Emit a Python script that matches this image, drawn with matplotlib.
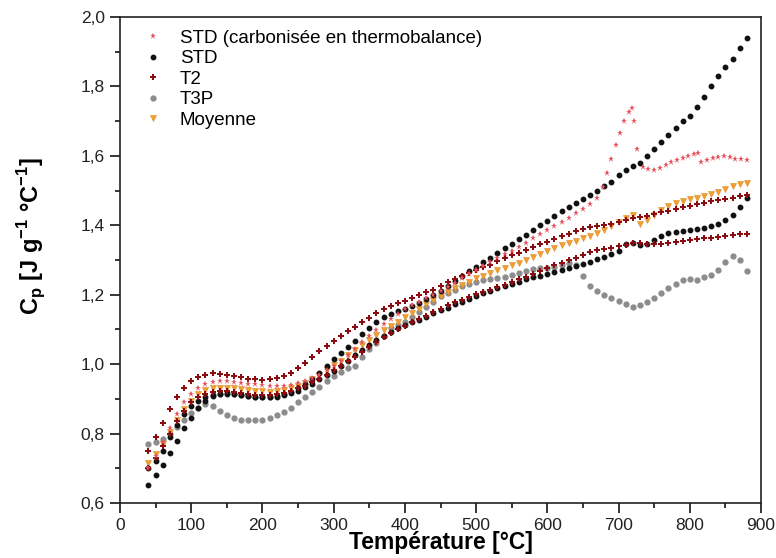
import numpy as np
import matplotlib
matplotlib.use('Agg')
import matplotlib.pyplot as plt
from matplotlib.ticker import MultipleLocator, FuncFormatter

plt.rcParams['font.family'] = ['Liberation Sans', 'DejaVu Sans']

# temperature grid shared by most series (°C)
T_grid = list(range(40, 890, 10))

# STD (carbonisée en thermobalance) - own temperatures because of the spike
T_carb = list(range(40, 680, 10)) + [678, 684, 690, 696, 702, 708, 714, 719, 722, 726, 734, 742,
                                     750, 758, 766, 774, 782, 790, 798, 806, 812,
                                     816, 824, 832, 840, 848, 856, 864, 872, 880]
cp_carb = [0.70, 0.735, 0.775, 0.815, 0.855, 0.89, 0.915, 0.932, 0.942, 0.948,
           0.95, 0.95, 0.948, 0.946, 0.944, 0.942, 0.94, 0.938, 0.937, 0.938,
           0.941, 0.946, 0.952, 0.96, 0.97, 0.982, 0.995, 1.01, 1.027, 1.045,
           1.063, 1.08, 1.098, 1.115, 1.13, 1.145, 1.158, 1.17, 1.18, 1.19,
           1.20, 1.21, 1.222, 1.235, 1.248, 1.26, 1.272, 1.283, 1.294, 1.305,
           1.316, 1.327, 1.338, 1.35, 1.362, 1.374, 1.386, 1.398, 1.41, 1.422,
           1.435, 1.448, 1.462, 1.478,
           1.51, 1.55, 1.59, 1.63, 1.665, 1.70, 1.725, 1.738, 1.70, 1.62, 1.568, 1.562,
           1.56, 1.565, 1.575, 1.582, 1.588, 1.595, 1.60, 1.605, 1.608,
           1.583, 1.588, 1.594, 1.598, 1.60, 1.598, 1.592, 1.59, 1.588]

# STD - two runs
cp_std_1 = [0.70, 0.72, 0.75, 0.79, 0.825, 0.855, 0.88, 0.895, 0.905, 0.912,
            0.915, 0.915, 0.913, 0.91, 0.907, 0.905, 0.904, 0.905, 0.908, 0.913,
            0.92, 0.93, 0.942, 0.958, 0.975, 0.995, 1.015, 1.033, 1.05, 1.068,
            1.087, 1.105, 1.12, 1.135, 1.145, 1.152, 1.16, 1.168, 1.177, 1.187,
            1.198, 1.21, 1.225, 1.24, 1.255, 1.268, 1.28, 1.293, 1.306, 1.32,
            1.334, 1.347, 1.36, 1.373, 1.386, 1.40, 1.413, 1.427, 1.44, 1.452,
            1.463, 1.475, 1.488, 1.50, 1.512, 1.525, 1.545, 1.56, 1.57, 1.58,
            1.60, 1.62, 1.64, 1.66, 1.68, 1.70, 1.715, 1.74, 1.77, 1.80,
            1.83, 1.855, 1.88, 1.91, 1.94]
cp_std_2 = [0.652, 0.68, 0.71, 0.745, 0.78, 0.815, 0.845, 0.875, 0.895, 0.908,
            0.915, 0.917, 0.915, 0.912, 0.909, 0.906, 0.904, 0.904, 0.906, 0.91,
            0.916, 0.924, 0.933, 0.944, 0.956, 0.968, 0.98, 0.995, 1.01, 1.025,
            1.04, 1.055, 1.07, 1.082, 1.093, 1.103, 1.112, 1.12, 1.128, 1.137,
            1.146, 1.155, 1.163, 1.172, 1.18, 1.188, 1.196, 1.204, 1.211, 1.218,
            1.225, 1.232, 1.238, 1.244, 1.25, 1.255, 1.26, 1.265, 1.27, 1.276,
            1.282, 1.288, 1.295, 1.302, 1.31, 1.318, 1.326, 1.345, 1.348, 1.342,
            1.345, 1.358, 1.37, 1.377, 1.38, 1.383, 1.386, 1.39, 1.393, 1.397,
            1.403, 1.415, 1.43, 1.452, 1.478]

# T2 - two runs
cp_t2_1 = [0.75, 0.79, 0.83, 0.87, 0.905, 0.93, 0.95, 0.962, 0.97, 0.974,
           0.973, 0.97, 0.966, 0.962, 0.958, 0.956, 0.955, 0.956, 0.96, 0.966,
           0.975, 0.988, 1.003, 1.02, 1.037, 1.053, 1.068, 1.082, 1.095, 1.108,
           1.12, 1.133, 1.147, 1.16, 1.168, 1.175, 1.182, 1.19, 1.198, 1.207,
           1.215, 1.225, 1.236, 1.246, 1.255, 1.263, 1.271, 1.279, 1.287, 1.296,
           1.305, 1.313, 1.321, 1.33, 1.338, 1.345, 1.352, 1.36, 1.368, 1.376,
           1.383, 1.39, 1.394, 1.397, 1.40, 1.405, 1.41, 1.415, 1.42, 1.425,
           1.428, 1.432, 1.437, 1.442, 1.447, 1.452, 1.456, 1.46, 1.465, 1.47,
           1.473, 1.476, 1.48, 1.484, 1.488]
cp_t2_2 = [0.70, 0.73, 0.765, 0.80, 0.835, 0.865, 0.89, 0.905, 0.915, 0.92,
           0.922, 0.922, 0.92, 0.917, 0.914, 0.912, 0.911, 0.911, 0.913, 0.917,
           0.922, 0.93, 0.938, 0.948, 0.958, 0.97, 0.982, 0.995, 1.008, 1.022,
           1.036, 1.05, 1.064, 1.078, 1.09, 1.10, 1.11, 1.12, 1.13, 1.14,
           1.15, 1.16, 1.169, 1.178, 1.186, 1.194, 1.201, 1.208, 1.215, 1.222,
           1.229, 1.236, 1.244, 1.252, 1.26, 1.268, 1.277, 1.285, 1.292, 1.30,
           1.307, 1.315, 1.322, 1.328, 1.333, 1.336, 1.34, 1.344, 1.348, 1.35,
           1.347, 1.345, 1.345, 1.348, 1.352, 1.355, 1.357, 1.36, 1.362, 1.364,
           1.367, 1.37, 1.372, 1.374, 1.375]

# T3P
cp_t3p = [0.77, 0.775, 0.785, 0.80, 0.82, 0.84, 0.86, 0.875, 0.885, 0.878,
          0.865, 0.853, 0.845, 0.84, 0.838, 0.838, 0.84, 0.845, 0.853, 0.863,
          0.875, 0.89, 0.905, 0.92, 0.935, 0.95, 0.965, 0.978, 0.988, 0.995,
          1.02, 1.045, 1.062, 1.082, 1.103, 1.113, 1.122, 1.135, 1.15, 1.165,
          1.18, 1.195, 1.205, 1.215, 1.225, 1.232, 1.238, 1.242, 1.245, 1.248,
          1.252, 1.256, 1.262, 1.268, 1.273, 1.276, 1.278, 1.28, 1.285, 1.29,
          1.285, 1.255, 1.225, 1.21, 1.20, 1.19, 1.183, 1.172, 1.165, 1.17,
          1.18, 1.19, 1.205, 1.22, 1.232, 1.242, 1.245, 1.243, 1.25, 1.258,
          1.272, 1.295, 1.312, 1.30, 1.268]

# Moyenne
cp_moy = [0.715, 0.74, 0.77, 0.805, 0.84, 0.87, 0.895, 0.915, 0.925, 0.93,
          0.932, 0.932, 0.93, 0.928, 0.926, 0.924, 0.922, 0.921, 0.922, 0.925,
          0.93, 0.937, 0.946, 0.957, 0.97, 0.983, 0.997, 1.01, 1.025, 1.04,
          1.055, 1.07, 1.085, 1.098, 1.11, 1.122, 1.135, 1.147, 1.16, 1.172,
          1.185, 1.197, 1.208, 1.218, 1.228, 1.238, 1.247, 1.255, 1.263, 1.27,
          1.278, 1.285, 1.292, 1.30, 1.308, 1.317, 1.326, 1.335, 1.343, 1.35,
          1.356, 1.362, 1.37, 1.378, 1.387, 1.397, 1.41, 1.422, 1.43, 1.405,
          1.415, 1.43, 1.443, 1.455, 1.463, 1.47, 1.475, 1.48, 1.485, 1.49,
          1.497, 1.505, 1.513, 1.52, 1.523]

c_carb = '#e5505a'
c_std = '#111111'
c_t2 = '#8b0d12'
c_t3p = '#8c8c8c'
c_moy = '#f0a033'

fig = plt.figure(figsize=(7.76, 5.58), dpi=100)
ax = fig.add_axes([120 / 776, 1 - 503 / 558, 641 / 776, 486 / 558])

ax.plot(T_grid, cp_t3p, ls='none', marker='o', ms=3.5, color=c_t3p, mec=c_t3p, label='T3P', zorder=2)
ax.plot(T_grid, cp_moy, ls='none', marker='v', ms=5, color=c_moy, mec='#e08a20', mew=0.4, label='Moyenne', zorder=3)
ax.plot(T_grid, cp_std_2, ls='none', marker='o', ms=3.2, color=c_std, label='STD', zorder=4)
ax.plot(T_grid, cp_std_1, ls='none', marker='o', ms=3.2, color=c_std, zorder=4)
ax.plot(T_grid, cp_t2_1, ls='none', marker='P', ms=4.6, color=c_t2, mew=0, label='T2', zorder=5)
ax.plot(T_grid, cp_t2_2, ls='none', marker='P', ms=4.6, color=c_t2, mew=0, zorder=5)
ax.plot(T_carb, cp_carb, ls='none', marker='*', ms=4.6, color=c_carb, mew=0, label='STD (carbonisée en thermobalance)', zorder=6)

ax.set_xlim(0, 900)
ax.set_ylim(0.6, 2.0)
ax.xaxis.set_major_locator(MultipleLocator(100))
ax.xaxis.set_minor_locator(MultipleLocator(50))
ax.yaxis.set_major_locator(MultipleLocator(0.2))
ax.yaxis.set_minor_locator(MultipleLocator(0.1))
ax.yaxis.set_major_formatter(FuncFormatter(lambda v, p: f'{v:.1f}'.replace('.', ',')))
ax.tick_params(which='major', direction='out', length=7, width=1.1, labelsize=12.5,
               labelcolor='#222222', pad=4)
ax.tick_params(which='minor', direction='out', length=3.5, width=1.1)
for s in ax.spines.values():
    s.set_linewidth(1.2)
    s.set_color('#222222')

# label sits over the tick labels, as in the original figure
ax.set_xlabel('Température [°C]', fontsize=16.5, fontweight='bold', labelpad=-2)
ax.set_ylabel(r'C$_\mathregular{p}$ [J g$^{\mathregular{-1}}$ °C$^{\mathregular{-1}}$]',
              fontsize=17, fontweight='bold')
ax.yaxis.set_label_coords(-0.112, 0.55)

h, l = ax.get_legend_handles_labels()
order = [4, 2, 3, 0, 1]
ax.legend([h[i] for i in order], [l[i] for i in order], loc='upper left',
          bbox_to_anchor=(0.02, 0.997), frameon=False, fontsize=13.5,
          handlelength=1.0, handletextpad=0.9, labelspacing=0.18, markerscale=1.0,
          borderaxespad=0.2)

fig.savefig('out.png', dpi=100)
